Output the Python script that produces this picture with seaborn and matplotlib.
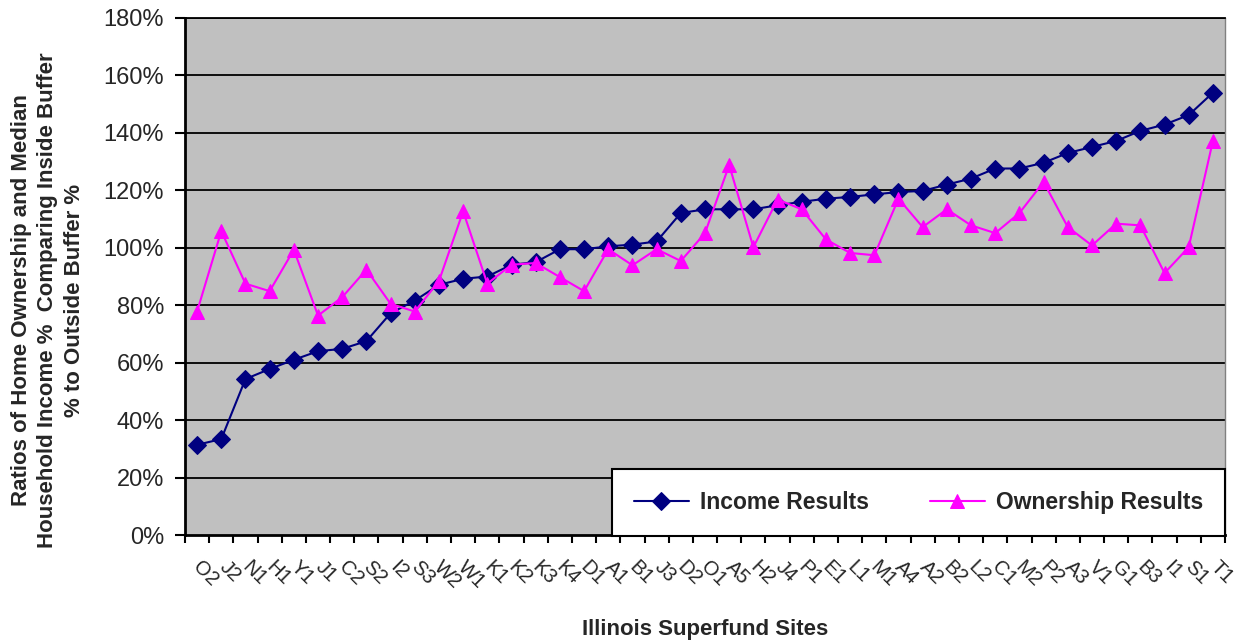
import matplotlib
matplotlib.use("Agg")
import matplotlib.pyplot as plt
import numpy as np
import pandas as pd
import seaborn as sns
from matplotlib.ticker import FixedLocator, PercentFormatter

# Superfund site codes, ordered by income ratio
sites = ["O2", "J2", "N1", "H1", "Y1", "J1", "C2", "S2", "I2", "S3",
         "W2", "W1", "K1", "K2", "K3", "K4", "D1", "A1", "B1", "J3",
         "D2", "O1", "A5", "H2", "J4", "P1", "E1", "L1", "M1", "A4",
         "A2", "B2", "L2", "C1", "M2", "P2", "A3", "V1", "G1", "B3",
         "I1", "S1", "T1"]

# Ratio (%) of median household income inside vs. outside the buffer
income_results = [31.4, 33.4, 54.3, 57.8, 61.0, 64.0, 64.8, 67.5, 77.2, 81.6,
                  87.1, 89.2, 90.0, 94.1, 95.0, 99.5, 99.5, 100.5, 101.1, 102.2,
                  112.1, 113.4, 113.4, 113.4, 114.8, 116.0, 117.1, 117.7, 118.6, 119.4,
                  119.8, 122.0, 124.1, 127.6, 127.6, 129.6, 133.0, 135.1, 137.2, 140.7,
                  142.9, 146.2, 154.0]

# Ratio (%) of home ownership inside vs. outside the buffer
ownership_results = [77.8, 105.8, 87.5, 84.9, 99.3, 76.4, 82.8, 92.4, 80.5, 77.8,
                     88.4, 112.7, 87.5, 94.1, 94.7, 89.8, 84.9, 99.5, 93.9, 99.5,
                     95.4, 105.1, 128.8, 100.2, 116.8, 113.4, 102.9, 98.2, 97.4, 117.1,
                     107.2, 113.4, 107.8, 105.1, 112.1, 122.9, 107.2, 100.8, 108.4, 107.8,
                     91.2, 100.2, 137.2]

y_ticks = [0, 20, 40, 60, 80, 100, 120, 140, 160, 180]

df = pd.DataFrame({
    "pos": np.arange(len(sites)),
    "site": sites,
    "Income Results": income_results,
    "Ownership Results": ownership_results,
})

sns.set_theme(style="white")
plt.rcParams["font.family"] = ["Liberation Sans", "DejaVu Sans"]

fig = plt.figure(figsize=(12.44, 6.44), dpi=100)
ax = fig.add_axes([185 / 1244, 1 - 535 / 644, 1040 / 1244, 517 / 644])
ax.set_facecolor("#C0C0C0")

navy = "#000080"
magenta = "#FF00FF"

sns.lineplot(data=df, x="pos", y="Income Results", ax=ax, color=navy,
             marker="D", markersize=9, markeredgecolor=navy, linewidth=1.5,
             label="Income Results", zorder=3, sort=False)
sns.lineplot(data=df, x="pos", y="Ownership Results", ax=ax, color=magenta,
             marker="^", markersize=10, markeredgecolor=magenta, linewidth=1.5,
             label="Ownership Results", zorder=4, sort=False)

ax.set_xlim(-0.5, len(sites) - 0.5)
ax.set_ylim(0, 180)

# Horizontal gridlines
for v in y_ticks[1:]:
    ax.axhline(v, color="black", linewidth=1.3, zorder=1)

# Y axis
ax.yaxis.set_major_locator(FixedLocator(y_ticks))
ax.yaxis.set_major_formatter(PercentFormatter(decimals=0))
ax.tick_params(axis="y", which="major", direction="out", length=7, width=1.5,
               color="black", pad=8, labelsize=17, left=True)

# X axis: tick marks between categories, slanted labels just right of each site
ax.xaxis.set_major_locator(FixedLocator(np.arange(-0.5, len(sites), 1.0)))
ax.xaxis.set_minor_locator(FixedLocator(np.arange(len(sites)) + 0.35))
ax.set_xticklabels([], minor=False)
ax.set_xticklabels(sites, minor=True, rotation=-45, ha="center", va="top",
                   fontsize=14.5)
ax.tick_params(axis="x", which="major", direction="out", length=6, width=1.5,
               color="black", bottom=True)
ax.tick_params(axis="x", which="minor", length=0, pad=16)

for side in ["left", "bottom"]:
    ax.spines[side].set_color("black")
    ax.spines[side].set_linewidth(2)
ax.spines["top"].set_color("black")
ax.spines["top"].set_linewidth(1.3)
ax.spines["right"].set_color("#808080")
ax.spines["right"].set_linewidth(1.0)

ax.set_xlabel("")
ax.set_ylabel("")

leg = ax.legend(loc="center", bbox_to_anchor=(0.4106, 0.0, 0.5894, 0.1257),
                mode="expand", ncol=2, borderaxespad=0, frameon=True,
                fancybox=False, framealpha=1, handlelength=2.4,
                handletextpad=0.5, borderpad=0.95,
                prop={"weight": "bold", "size": 16.5})
leg.get_frame().set_edgecolor("black")
leg.get_frame().set_linewidth(1.5)
leg.get_frame().set_facecolor("white")
leg.set_zorder(10)

fig.text(48 / 1244, 1 - 300 / 644,
         "Ratios of Home Ownership and Median\n"
         "Household Income %  Comparing Inside Buffer\n"
         "% to Outside Buffer %",
         rotation=90, ha="center", va="center", multialignment="center",
         fontsize=16, fontweight="bold", linespacing=1.35)
fig.text(705 / 1244, 1 - 630 / 644, "Illinois Superfund Sites",
         ha="center", va="center", fontsize=16, fontweight="bold")

fig.savefig("out.png", dpi=100)
